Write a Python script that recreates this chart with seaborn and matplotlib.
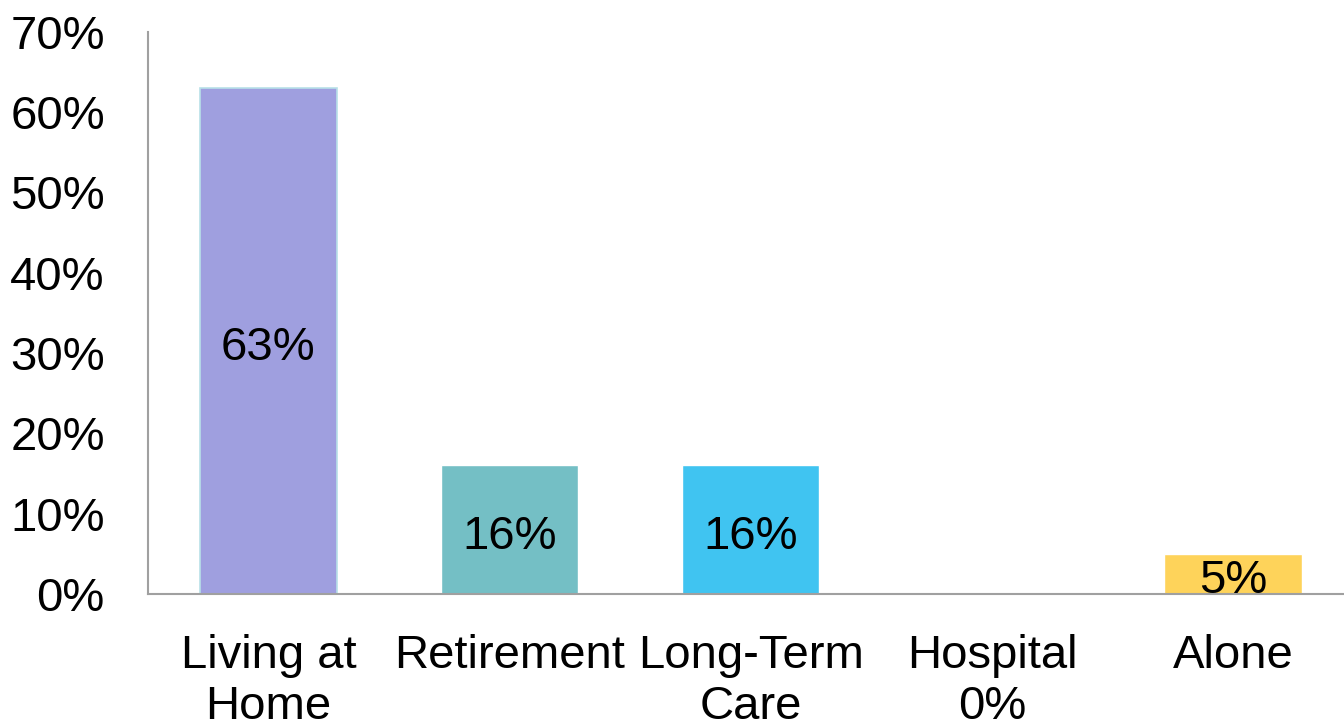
import matplotlib
matplotlib.use("Agg")
import matplotlib.pyplot as plt
import seaborn as sns
import pandas as pd

# Dados
categorias = ["Living at\nHome", "Retirement", "Long-Term\nCare", "Hospital\n0%", "Alone"]
valores = [0.63, 0.16, 0.16, 0.0, 0.05]
rotulos = ["63%", "16%", "16%", "", "5%"]
cores = ["#9F9FDF", "#74BFC5", "#40C4F1", "#9F9FDF", "#FED35A"]
ticks_y = [0, 0.1, 0.2, 0.3, 0.4, 0.5, 0.6, 0.7]
ticks_y_txt = ["0%", "10%", "20%", "30%", "40%", "50%", "60%", "70%"]

df = pd.DataFrame({"categoria": categorias, "valor": valores})

sns.set_style("white")
plt.rcParams["font.family"] = ["Liberation Sans", "DejaVu Sans"]

fig = plt.figure(figsize=(13.44, 7.26), dpi=100)
ax = fig.add_axes([0.110, 0.182, 0.89, 0.774])

sns.barplot(data=df, x="categoria", y="valor", hue="categoria",
            palette=cores, legend=False, width=0.57, saturation=1, ax=ax)

# borda clara na primeira barra
ax.patches[0].set_edgecolor("#B8E0E8")
ax.patches[0].set_linewidth(1.2)

for p, txt in zip(ax.patches, rotulos):
    if txt:
        ax.text(p.get_x() + p.get_width() / 2, p.get_height() / 2 - 0.009, txt,
                ha="center", va="center", fontsize=34, color="black")

ax.set_ylim(0, 0.70)
ax.set_xlim(-0.5, 4.46)
ax.set_yticks(ticks_y)
ax.set_yticklabels(ticks_y_txt, fontsize=34, color="black")
ax.tick_params(axis="x", labelsize=34, labelcolor="black", length=0, pad=29)
ax.tick_params(axis="y", length=0, pad=31)
for lab in ax.get_xticklabels():
    lab.set_linespacing(1.2)
ax.set_xlabel("")
ax.set_ylabel("")

for s in ["top", "right"]:
    ax.spines[s].set_visible(False)
for s in ["left", "bottom"]:
    ax.spines[s].set_color("#A0A0A0")
    ax.spines[s].set_linewidth(1.5)

plt.savefig("out.png", dpi=100)
